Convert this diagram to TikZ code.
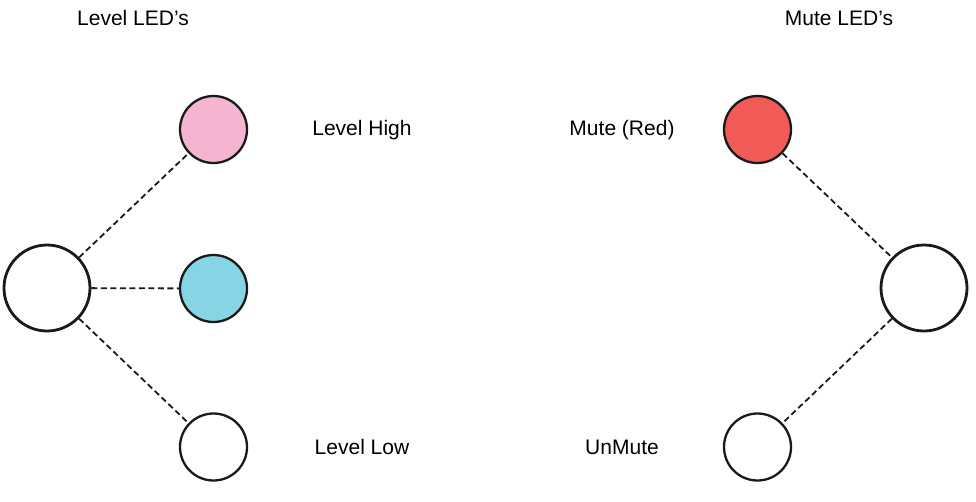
\documentclass[tikz,border=0pt]{standalone}
\usepackage{fontspec}
\setmainfont{Liberation Sans}
\definecolor{ledpink}{HTML}{F5B5D1}
\definecolor{ledblue}{HTML}{86D4E4}
\definecolor{ledred}{HTML}{F05B57}
\definecolor{edge}{HTML}{1A1A1A}
\begin{document}
\begin{tikzpicture}[x=1pt,y=-1pt,
  led/.style={circle,draw=edge,line width=2.3pt,minimum size=67pt,inner sep=0pt},
  hub/.style={circle,draw=edge,line width=2.8pt,minimum size=86pt,inner sep=0pt},
  link/.style={line width=1.8pt,dash pattern=on 6pt off 3.5pt,draw=edge},
  lbl/.style={font=\fontsize{21}{24}\selectfont,text=black,inner sep=0pt}]
\useasboundingbox (0,0) rectangle (976,501);
\node[hub,fill=white] (lhub) at (47,288) {};
\node[led,fill=ledpink] (lhigh) at (213.5,129.5) {};
\node[led,fill=ledblue] (lmid) at (213.5,288.5) {};
\node[led,fill=white] (llow) at (213.5,447) {};
\node[led,fill=ledred] (mute) at (757.5,129.5) {};
\node[hub,fill=white] (rhub) at (924,288) {};
\node[led,fill=white] (unmute) at (757.5,447) {};
\draw[link] (lhub) -- (lhigh);
\draw[link] (lhub) -- (lmid);
\draw[link] (lhub) -- (llow);
\draw[link] (mute) -- (rhub);
\draw[link] (rhub) -- (unmute);
\node[lbl] (t1) at (133,18) {Level LED’s};
\node[lbl] (t2) at (839,18) {Mute LED’s};
\node[lbl] (t3) at (362,130) {Level High};
\node[lbl] (t4) at (362,447) {Level Low};
\node[lbl] (t5) at (622,130) {Mute (Red)};
\node[lbl] (t6) at (622,447) {UnMute};
\end{tikzpicture}
\end{document}
